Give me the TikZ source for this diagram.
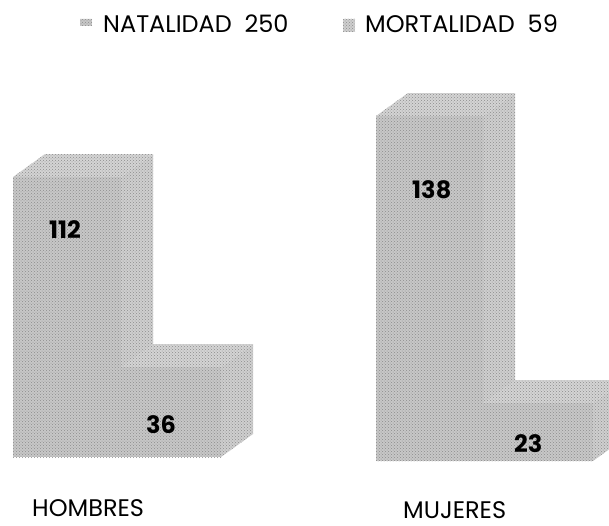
\documentclass[tikz,border=0pt]{standalone}
\usepackage{fontspec}
\setmainfont{Poppins}
\usetikzlibrary{patterns}

\begin{document}
\begin{tikzpicture}[x=1pt, y=-1pt,
  frente/.style={fill=black!22, postaction={pattern=crosshatch dots, pattern color=black!45}},
  lado/.style={fill=black!19, postaction={pattern=crosshatch dots, pattern color=black!45}},
  tapa/.style={fill=black!17, postaction={pattern=crosshatch dots, pattern color=black!45}},
  marca/.style={inner sep=0pt, minimum width=12pt},
  dato/.style={anchor=base west, inner sep=0pt, font=\fontsize{24}{24}\selectfont\bfseries},
  titulo/.style={anchor=base west, inner sep=0pt, font=\fontsize{24}{24}\selectfont},
  grupo/.style={anchor=base west, inner sep=0pt, font=\fontsize{24}{24}\selectfont}]
\clip (0,0) rectangle (609,525);

% hombres
\fill[lado] (121,177) -- (153,154) -- (153,434) -- (121,457) -- cycle;
\fill[tapa] (13,177) -- (45,154) -- (153,154) -- (121,177) -- cycle;
\fill[frente] (13,177) rectangle (121,457);
\fill[lado] (221,367) -- (253,344) -- (253,434) -- (221,457) -- cycle;
\fill[tapa] (121,367) -- (153,344) -- (253,344) -- (221,367) -- cycle;
\fill[frente] (121,367) rectangle (221,457);

% mujeres
\fill[lado] (483,116) -- (515,93) -- (515,438) -- (483,461) -- cycle;
\fill[tapa] (376,116) -- (408,93) -- (515,93) -- (483,116) -- cycle;
\fill[frente] (376,116) rectangle (483,461);
\fill[lado] (593,403) -- (625,380) -- (625,438) -- (593,461) -- cycle;
\fill[tapa] (483,403) -- (515,380) -- (625,380) -- (593,403) -- cycle;
\fill[frente] (483,403) rectangle (593,461);

\node(v112)[dato] at (49,238) {112};
\node(v36)[dato] at (146,433) {36};
\node(v138)[dato] at (412,198) {138};
\node(v23)[dato] at (514,452) {23};

\node(mNat)[marca, minimum height=7pt, frente] at (86,22) {};
\node(lNat)[titulo] at (103,32) {NATALIDAD\ \ 250};
\node(mMor)[marca, minimum height=13pt, lado] at (349,25) {};
\node(lMor)[titulo] at (365,32) {MORTALIDAD\ \ 59};

\node(hom)[grupo] at (32,516) {HOMBRES};
\node(muj)[grupo] at (403,518) {MUJERES};

\end{tikzpicture}
\end{document}
